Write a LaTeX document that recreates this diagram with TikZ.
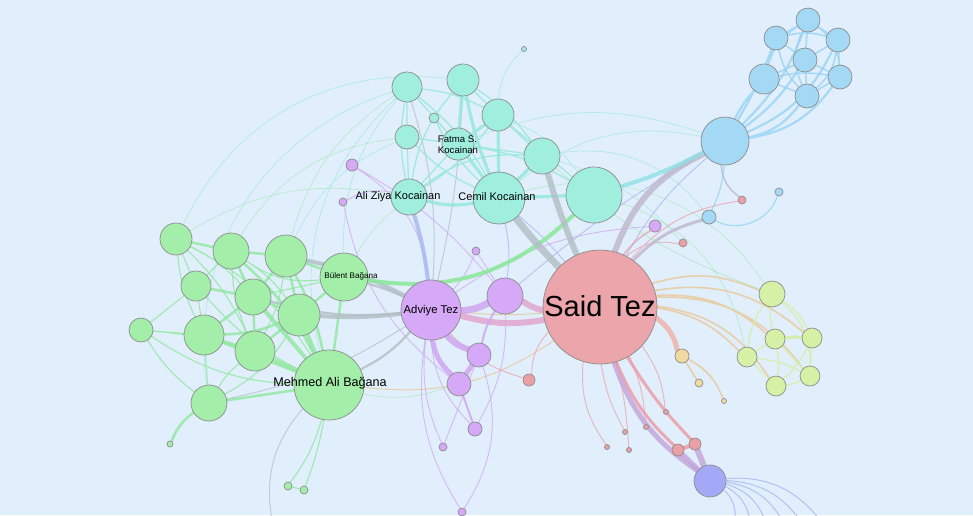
\documentclass[tikz,border=0pt]{standalone}
\usepackage{fontspec}
\setmainfont{Liberation Sans}
\usetikzlibrary{backgrounds}
\definecolor{bgc}{HTML}{E1EEFB}
\definecolor{outl}{HTML}{8C8C8C}
\definecolor{pinkN}{HTML}{EBA5AB}
\definecolor{purpN}{HTML}{D5A9F7}
\definecolor{tealN}{HTML}{A0EEDE}
\definecolor{greenN}{HTML}{A3EFAA}
\definecolor{blueN}{HTML}{A4D9F6}
\definecolor{ygN}{HTML}{D6F1A6}
\definecolor{tanN}{HTML}{F1D9A1}
\definecolor{bvN}{HTML}{A4A9F7}
\definecolor{redN}{HTML}{EBA0A6}
\definecolor{eGreen}{HTML}{8EE89E}
\definecolor{eTeal}{HTML}{8FE8D8}
\definecolor{eGray}{HTML}{B2BEC4}
\definecolor{eGP}{HTML}{BDB6CE}
\definecolor{ePk}{HTML}{E2A2CC}
\definecolor{ePu}{HTML}{CFA2F2}
\definecolor{ePu2}{HTML}{C3A4DA}
\definecolor{eBlue}{HTML}{96D4F4}
\definecolor{eBV}{HTML}{A8B6F0}
\definecolor{eTan}{HTML}{E8C898}
\definecolor{eSal}{HTML}{EFB0A4}
\definecolor{eRed}{HTML}{EB9AA4}
\definecolor{eYG}{HTML}{D2F0A4}
\definecolor{eCyan}{HTML}{8EE0E6}
\begin{document}
\begin{tikzpicture}[x=1pt,y=-1pt,
  nd/.style={circle,draw=outl,line width=0.7pt,inner sep=0pt,minimum size={2*#1pt}},
  nPk/.style={nd=#1,fill=pinkN},
  nPu/.style={nd=#1,fill=purpN},
  nTe/.style={nd=#1,fill=tealN},
  nGr/.style={nd=#1,fill=greenN},
  nBl/.style={nd=#1,fill=blueN},
  nYG/.style={nd=#1,fill=ygN},
  nTa/.style={nd=#1,fill=tanN},
  nBV/.style={nd=#1,fill=bvN},
  nRd/.style={nd=#1,fill=redN},
  ed/.style={draw=#1,draw opacity=0.8,line cap=round},
  lbl/.style={inner sep=0pt,text=black,font=\fontsize{#1}{#1}\selectfont}]
\useasboundingbox (0,0) rectangle (973,515);
% ---------- nodes ----------
\node[nPk=57] (said) at (600,307) {};
\node[nPu=30] (adv) at (431,310) {};
\node[nPu=18] (p1) at (505,296) {};
\node[nPu=12] (p2) at (479,355) {};
\node[nPu=12] (p3) at (459,384) {};
\node[nPu=7] (p4) at (475,429) {};
\node[nPu=4] (p5) at (443,447) {};
\node[nPu=4] (p6) at (462,512) {};
\node[nPu=4] (p7) at (476,251) {};
\node[nPu=6] (p8) at (352,165) {};
\node[nPu=4] (p9) at (343,202) {};
\node[nPu=6] (p10) at (655,226) {};
\node[nRd=6] (r1) at (529,380) {};
\node[nRd=4] (r2) at (683,243) {};
\node[nRd=4] (r3) at (742,200) {};
\node[nRd=6] (r4) at (695,444) {};
\node[nRd=6] (r5) at (678,450) {};
\node[nRd=2.5] (r6) at (666,412) {};
\node[nRd=2.5] (r7) at (625,432) {};
\node[nRd=2.5] (r8) at (646,427) {};
\node[nRd=2.5] (r9) at (607,447) {};
\node[nRd=2.5] (r10) at (629,450) {};
\node[nBV=16] (bv) at (710,481) {};
\node[nTa=7] (t1) at (682,356) {};
\node[nTa=4] (t2) at (699,383) {};
\node[nTa=2.5] (t3) at (724,401) {};
\node[nYG=13] (y1) at (772,294) {};
\node[nYG=10] (y2) at (775,339) {};
\node[nYG=10] (y3) at (812,338) {};
\node[nYG=10] (y4) at (747,357) {};
\node[nYG=10] (y5) at (810,376) {};
\node[nYG=10] (y6) at (776,386) {};
\node[nBl=24] (b0) at (725,141) {};
\node[nBl=12] (b1) at (808,20) {};
\node[nBl=12] (b2) at (776,38) {};
\node[nBl=12] (b3) at (838,40) {};
\node[nBl=12] (b4) at (805,60) {};
\node[nBl=15] (b5) at (764,79) {};
\node[nBl=12] (b6) at (840,77) {};
\node[nBl=12] (b7) at (807,96) {};
\node[nBl=4] (b8) at (779,192) {};
\node[nBl=7] (b9) at (709,217) {};
\node[nTe=15] (c1) at (407,87) {};
\node[nTe=16] (c2) at (463,80) {};
\node[nTe=16] (c3) at (498,115) {};
\node[nTe=5] (c4) at (434,118) {};
\node[nTe=12] (c5) at (407,137) {};
\node[nTe=16] (fat) at (458,144) {};
\node[nTe=18] (c6) at (542,156) {};
\node[nTe=18] (ali) at (409,197) {};
\node[nTe=26] (cem) at (499,198) {};
\node[nTe=28] (c7) at (594,195) {};
\node[nTe=2.5] (c8) at (524,49) {};
\node[nGr=16] (g1) at (176,239) {};
\node[nGr=18] (g2) at (231,251) {};
\node[nGr=21] (g3) at (286,256) {};
\node[nGr=24] (bul) at (344,277) {};
\node[nGr=15] (g4) at (196,286) {};
\node[nGr=18] (g5) at (253,297) {};
\node[nGr=21] (g6) at (299,315) {};
\node[nGr=12] (g7) at (141,330) {};
\node[nGr=20] (g8) at (204,335) {};
\node[nGr=20] (g9) at (255,351) {};
\node[nGr=35] (meh) at (329,385) {};
\node[nGr=18] (g10) at (209,403) {};
\node[nGr=3] (g11) at (170,444) {};
\node[nGr=4] (g12) at (288,486) {};
\node[nGr=4] (g13) at (304,490) {};
\coordinate (bot1) at (272,520);
\coordinate (f1) at (735,520);
\coordinate (f2) at (750,520);
\coordinate (f3) at (765,520);
\coordinate (f4) at (782,520);
\coordinate (f5) at (800,520);
\coordinate (f6) at (820,520);
% ---------- labels ----------
\node[lbl=29] (lsaid) at (600,306) {Said Tez};
\node[lbl=11.3] (ladv) at (431,311) {Adviye Tez};
\node[lbl=12.6] (lmeh) at (330,383) {Mehmed Ali Bağana};
\node[lbl=11] (lcem) at (497,197) {Cemil Kocainan};
\node[lbl=11] (lali) at (398,197) {Ali Ziya Kocainan};
\node[lbl=8.1] (lbul) at (351,276) {Bülent Bağana};
\node[lbl=9.6,align=left] (lfat) at (458,145) {Fatma S.\\[1.5pt]Kocainan};
% ---------- edges ----------
\begin{scope}[on background layer]
\fill[bgc] (0,0) rectangle (973,515);
% faint long arcs
\draw[ed=eTeal,line width=0.7,draw opacity=0.6]
  (c1) to[bend right=30] (meh) (c1) to[bend right=20] (bul) (c5) to[bend right=20] (g3)
  (c2) to[bend right=35] (g1) (c8) to[bend right=20] (c3) (cem) to[bend left=25] (b0)
  (c6) to[bend left=30] (b9) (c3) to[bend left=15] (c7) (c1) to[bend right=40] (g10)
  (fat) to[bend left=20] (b0) (c6) to[bend left=15] (r2);
\draw[ed=eGreen,line width=0.7,draw opacity=0.5]
  (cem) to[bend left=35] (y1) (c7) to[bend left=30] (y4) (g1) to[bend left=20] (ali)
  (g3) to[bend left=20] (c1) (bul) to[bend left=10] (ali) (meh) to[bend right=15] (p3)
  (g2) to[bend left=25] (c5);
\draw[ed=eGray,line width=1,draw opacity=0.7]
  (meh) to[bend right=25] (bot1) (c2) to[bend left=5] (adv) (g10) to[bend right=10] (adv)
  (c1) to[bend left=10] (adv);
\draw[ed=eTan,line width=1] (meh) to[bend right=20] (said) (adv) to[bend right=5] (said);
% purple thin
\draw[ed=ePu,line width=0.9,draw opacity=0.7]
  (p8) to[bend left=25] (adv) (p9) to[bend right=20] (p3) (p8) to[bend left=10] (p1)
  (p7) to[bend left=10] (adv) (p7) -- (p1) (p5) to[bend left=15] (adv)
  (p5) -- (p2) (p4) to[bend left=20] (adv) (p6) to[bend right=25] (p2)
  (p6) to[bend left=20] (adv) (p4) to[bend right=15] (p1) (adv) to[bend left=15] (p10)
  (p9) to[bend left=20] (ali);
\draw[ed=eBV,line width=1,draw opacity=0.7]
  (cem) to[bend left=10] (p1) (cem) to[bend left=5] (said) (b0) to[bend right=10] (said)
  (b0) to[bend right=5] (p1);
% red thin
\draw[ed=eRed,line width=0.9,draw opacity=0.7]
  (said) to[bend left=25] (r2) (said) to[bend left=20] (r3) (said) to[bend right=20] (r1)
  (said) to[bend left=15] (r6) (said) to[bend right=10] (r7) (said) to[bend left=10] (r8)
  (said) to[bend right=20] (r9) (said) to[bend left=5] (r10) (adv) to[bend right=15] (r1);
\draw[ed=eRed,line width=1.6,draw opacity=0.7] (said) to[bend left=10] (p10);
\draw[ed=eGP,line width=3] (said) to[bend left=15] (b9);
\draw[ed=eGP,line width=1.5] (b0) to[bend right=25] (r3);
% blue
\draw[ed=eBlue,line width=1.2] (b0) to[bend left=10] (b9) (b9) to[bend right=50] (b8);
\draw[ed=eBlue,line width=2.2]
  (b0) to[bend left=8] (b5) (b0) to[bend right=5] (b2) (b0) to[bend right=10] (b4)
  (b0) to[bend right=12] (b1) (b0) to[bend right=20] (b3) (b0) to[bend right=22] (b6)
  (b0) to[bend right=20] (b7);
\draw[ed=eBlue,line width=1.6]
  (b5) -- (b2) (b5) -- (b4) (b5) -- (b7) (b5) to[bend left=10] (b6) (b5) to[bend left=20] (b1)
  (b2) -- (b1) (b2) -- (b4) (b2) to[bend left=15] (b3) (b2) to[bend right=15] (b7)
  (b1) -- (b4) (b1) -- (b3) (b1) to[bend left=25] (b6) (b1) to[bend right=25] (b7)
  (b3) -- (b4) (b3) -- (b6) (b4) -- (b6) (b4) -- (b7) (b6) -- (b7) (b3) to[bend left=20] (b7);
\draw[ed=eBV,line width=1]
  (bv) to[bend left=25] (f1) (bv) to[bend left=25] (f2) (bv) to[bend left=25] (f3)
  (bv) to[bend left=25] (f4) (bv) to[bend left=25] (f5) (bv) to[bend left=28] (f6);
% tan / yellow
\draw[ed=eTan,line width=1.6]
  (said) to[bend left=20] (y1) (said) to[bend left=22] (y2) (said) to[bend left=25] (y3)
  (said) to[bend left=18] (y4) (said) to[bend left=28] (y5) (said) to[bend left=25] (y6)
  (t1) -- (t2) (t1) to[bend left=20] (t3);
\draw[ed=eSal,line width=5] (said) to[bend left=20] (t1);
\draw[ed=eYG,line width=1.4]
  (y1) to[bend right=10] (y2) (y1) to[bend right=15] (y4) (y1) to[bend left=15] (y3)
  (y2) to[bend left=5] (y3) (y2) -- (y4) (y2) to[bend left=10] (y6) (y3) -- (y5)
  (y4) -- (y6) (y5) to[bend left=10] (y6) (y4) to[bend left=10] (y5) (y2) -- (y5)
  (y1) to[bend left=25] (y5) (y3) to[bend left=10] (y6);
\draw[ed=eYG,line width=3] (y2) to[bend left=5] (y3);
\draw[ed=eGreen,line width=0.8,draw opacity=0.5] (y1) to[bend left=10] (c6);
% teal cluster
\draw[ed=eTeal,line width=1.3]
  (c1) -- (fat) (c1) to[bend left=10] (cem) (c1) to[bend left=10] (c3) (c1) -- (c5)
  (c1) to[bend right=10] (ali) (c5) -- (fat) (c5) to[bend right=10] (cem) (c5) -- (ali)
  (c4) -- (fat) (c4) to[bend right=10] (cem) (c2) -- (c3) (c2) to[bend left=10] (c6)
  (c6) -- (fat) (c6) -- (c3) (ali) -- (fat) (c3) to[bend left=10] (ali) (c2) to[bend right=15] (ali)
  (c7) -- (c3) (c7) to[bend right=10] (fat) (c6) to[bend right=20] (ali);
\draw[ed=eTeal,line width=3.2]
  (fat) -- (c2) (fat) -- (cem) (c2) to[bend right=5] (cem) (c3) -- (cem) (c3) -- (fat)
  (c6) -- (cem) (ali) to[bend right=12] (cem) (c7) -- (cem);
% green cluster
\draw[ed=eGreen,line width=1.1]
  (g1) -- (g4) (g1) to[bend left=10] (g5) (g1) to[bend right=10] (g8) (g1) to[bend left=15] (meh)
  (g1) to[bend left=10] (g9) (g2) to[bend left=10] (g6) (g2) to[bend right=10] (g9) (g4) -- (g2)
  (g4) -- (g8) (g4) to[bend right=10] (meh) (g7) -- (g4) (g7) -- (g8) (g7) to[bend left=5] (g9)
  (g7) to[bend right=15] (meh) (g7) to[bend right=10] (g10) (g8) -- (g10) (g10) to[bend left=10] (g9)
  (g10) to[bend right=15] (g6) (bul) -- (g5) (g3) to[bend left=10] (g9) (g2) to[bend right=20] (bul)
  (meh) to[bend left=10] (g12) (meh) to[bend left=5] (g13) (g12) -- (g13);
\draw[ed=eGreen,line width=2.5]
  (g1) -- (g2) (g2) -- (g3) (g2) -- (g5) (g2) to[bend left=10] (meh) (g3) -- (g5) (g3) -- (g6)
  (g3) -- (bul) (g3) to[bend left=8] (meh) (bul) -- (g6) (bul) -- (meh) (g4) -- (g5) (g5) -- (g6)
  (g5) -- (g8) (g5) -- (g9) (g6) -- (g9) (g8) -- (g9) (g8) -- (meh) (g10) -- (meh) (g10) to[bend right=15] (g11)
  (g8) to[bend right=10] (g6);
\draw[ed=eGreen,line width=4] (g5) -- (meh) (g6) -- (meh) (g9) -- (meh);
% thick connectors
\draw[ed=eGray,line width=4] (adv) to[bend right=8] (g3) (adv) to[bend left=5] (g6);
\draw[ed=eGray,line width=2.2] (adv) to[bend left=10] (g5) (adv) to[bend left=10] (meh) (adv) to[bend right=5] (bul);
\draw[ed=eGreen,line width=4,draw opacity=0.9] (bul) to[bend right=26] (c7);
\draw[ed=eBV,line width=4] (ali) to[bend left=5] (adv);
\draw[ed=eGray,line width=7] (said) to[bend left=3] (cem);
\draw[ed=eGray,line width=6] (said) to[bend left=3] (c6);
\draw[ed=eGP,line width=6] (said) to[bend left=22] (b0);
\draw[ed=eCyan,line width=4] (c7) to[bend right=5] (b0);
\draw[ed=ePu,line width=7] (adv) to[bend right=12] (p1);
\draw[ed=ePk,line width=6] (p1) to[bend right=10] (said);
\draw[ed=ePk,line width=6] (adv) to[bend right=12] (said);
\draw[ed=ePu,line width=6] (adv) to[bend right=15] (p2);
\draw[ed=ePu,line width=5] (adv) to[bend right=18] (p3);
\draw[ed=ePu,line width=5] (p2) -- (p3);
\draw[ed=ePu,line width=2] (p3) -- (p4) (p2) to[bend left=10] (p1);
\draw[ed=ePu2,line width=5] (said) to[bend right=18] (bv);
\draw[ed=eRed,line width=3] (said) to[bend right=12] (r5) (said) to[bend right=6] (r4);
\draw[ed=eRed,line width=4] (r4) -- (r5);
\draw[ed=ePu2,line width=6] (r4) -- (bv);
\draw[ed=ePu2,line width=5] (r5) -- (bv);
\end{scope}
\end{tikzpicture}
\end{document}
